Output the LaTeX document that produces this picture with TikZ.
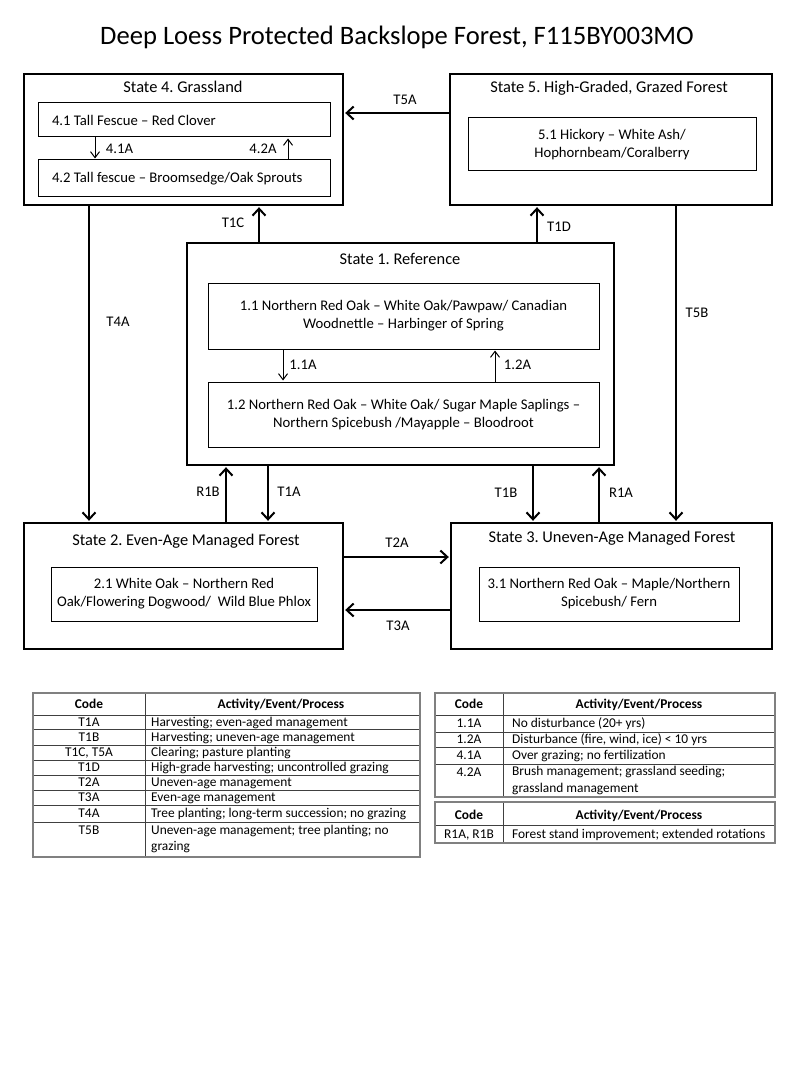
\documentclass[tikz,border=0pt]{standalone}
\usepackage{fontspec}
\setmainfont{Carlito}
\usepackage{tikz}
\usetikzlibrary{arrows.meta, positioning}
\frenchspacing
\newcommand{\statefont}{\fontsize{16.4}{19.7}\selectfont}
\newcommand{\phasefont}{\fontsize{14.7}{18}\selectfont}
\newcommand{\tabfont}{\fontsize{13.4}{16.5}\selectfont}
\tikzset{%
	statebox/.style={
		draw,
		rectangle,
		line width=2.4pt,
		inner sep=0pt
	},
	phasebox/.style={
		draw,
		rectangle,
		line width=1pt,
		align=center,
		font=\phasefont,
		inner sep=4pt
	},
}
\begin{document}
\begin{tikzpicture}[x=1pt,y=-1pt,shorten >=1pt,>={Straight Barb[length=7pt,width=13pt]}]
			\tikzstyle{statetitle}=[font=\statefont,inner sep=0pt,text height=12pt,text depth=2pt]
			\tikzstyle{translabel}=[font=\phasefont,inner sep=0pt,text height=11pt,text depth=1.6pt]
			\tikzstyle{trans}=[->,line width=2pt]
			\tikzstyle{phasetrans}=[-{Straight Barb[length=6pt,width=9pt]},line width=1pt]
			\tikzstyle{tabframe}=[draw=black!50,line width=1.6pt]
			\tikzstyle{tabline}=[draw=black!75,line width=0.9pt]
			\tikzstyle{tabhead}=[font=\tabfont\bfseries,inner sep=0pt,text height=10pt,text depth=1.4pt]
			\tikzstyle{tabcell}=[font=\tabfont,inner sep=0pt,text height=10pt,text depth=1.4pt]
			\tikzstyle{tabtext}=[tabcell,anchor=west]
			\tikzstyle{tabtwo}=[font=\tabfont,inner sep=0pt,anchor=west,align=left]
			
			\useasboundingbox (0,0) rectangle (800,1067);
			
			\node (title) at (397,37) {\fontsize{26.6}{30}\selectfont Deep Loess Protected Backslope Forest, F115BY003MO};
			
			% states
			\node[statebox,minimum width=319pt,minimum height=131pt] (s4) at (183.5,139.5) {};
			\node[statetitle] (s4t) at (183,88) {State 4. Grassland};
			\node[phasebox,minimum width=292pt,minimum height=34pt,text width=264pt,inner xsep=14pt,align=flush left] (p41) at (184,120) {4.1 Tall Fescue -- Red Clover};
			\node[phasebox,minimum width=292pt,minimum height=37pt,text width=264pt,inner xsep=14pt,align=flush left] (p42) at (184,178.5) {4.2 Tall fescue -- Broomsedge/Oak Sprouts};
			
			\node[statebox,minimum width=322pt,minimum height=131pt] (s5) at (611,139.5) {};
			\node[statetitle] (s5t) at (609,88) {State 5. High-Graded, Grazed Forest};
			\node[phasebox,minimum width=288pt,minimum height=53pt] (p51) at (612,144.5) {5.1 Hickory -- White Ash/\\Hophornbeam/Coralberry};
			
			\node[statebox,minimum width=427pt,minimum height=222pt] (s1) at (400.5,354) {};
			\node[statetitle] (s1t) at (400,259) {State 1. Reference};
			\node[phasebox,minimum width=391pt,minimum height=66pt] (p11) at (403.5,316) {1.1 Northern Red Oak -- White Oak/Pawpaw/ Canadian\\Woodnettle -- Harbinger of Spring};
			\node[phasebox,minimum width=391pt,minimum height=65pt] (p12) at (403.5,414.5) {1.2 Northern Red Oak -- White Oak/ Sugar Maple Saplings --\\Northern Spicebush /Mayapple -- Bloodroot};
			
			\node[statebox,minimum width=319pt,minimum height=126pt] (s2) at (183.5,586) {};
			\node[statetitle] (s2t) at (186,540) {State 2. Even-Age Managed Forest};
			\node[phasebox,minimum width=266pt,minimum height=54pt] (p21) at (184,594) {2.1 White Oak -- Northern Red\\Oak/Flowering Dogwood/ \ Wild Blue Phlox};
			
			\node[statebox,minimum width=321pt,minimum height=126pt] (s3) at (611.5,586) {};
			\node[statetitle] (s3t) at (612,537) {State 3. Uneven-Age Managed Forest};
			\node[phasebox,minimum width=260pt,minimum height=54pt] (p31) at (609,594) {3.1 Northern Red Oak -- Maple/Northern\\Spicebush/ Fern};
			
			% where the vertical connectors run
			\coordinate (xT4A) at (89,0);
			\coordinate (xR1B) at (226,0);
			\coordinate (xT1C) at (259,0);
			\coordinate (xT1A) at (268,0);
			\coordinate (xT1B) at (533,0);
			\coordinate (xT1D) at (537,0);
			\coordinate (xR1A) at (599,0);
			\coordinate (xT5B) at (676,0);
			\coordinate (yT5A) at (0,113);
			\coordinate (yT2A) at (0,557);
			\coordinate (yT3A) at (0,610);
			\coordinate (x41A) at (95,0);
			\coordinate (x42A) at (288,0);
			\coordinate (x11A) at (283,0);
			\coordinate (x12A) at (495,0);
			
			\draw[trans] (s5.west |- yT5A) -- (s4.east |- yT5A);
			\node[translabel] (lT5A) at (405,100) {T5A};
			
			\draw[trans] (s1.north -| xT1C) -- (s4.south -| xT1C);
			\node[translabel] (lT1C) at (233,223) {T1C};
			
			\draw[trans] (s1.north -| xT1D) -- (s5.south -| xT1D);
			\node[translabel] (lT1D) at (559,227) {T1D};
			
			\draw[trans] (s4.south -| xT4A) -- (s2.north -| xT4A);
			\node[translabel] (lT4A) at (118,322) {T4A};
			
			\draw[trans] (s5.south -| xT5B) -- (s3.north -| xT5B);
			\node[translabel] (lT5B) at (697,313) {T5B};
			
			\draw[trans] (s2.north -| xR1B) -- (s1.south -| xR1B);
			\node[translabel] (lR1B) at (208,492) {R1B};
			
			\draw[trans] (s1.south -| xT1A) -- (s2.north -| xT1A);
			\node[translabel] (lT1A) at (289,492) {T1A};
			
			\draw[trans] (s1.south -| xT1B) -- (s3.north -| xT1B);
			\node[translabel] (lT1B) at (506,493) {T1B};
			
			\draw[trans] (s3.north -| xR1A) -- (s1.south -| xR1A);
			\node[translabel] (lR1A) at (621,493) {R1A};
			
			\draw[trans] (s2.east |- yT2A) -- (s3.west |- yT2A);
			\node[translabel] (lT2A) at (397,543) {T2A};
			
			\draw[trans] (s3.west |- yT3A) -- (s2.east |- yT3A);
			\node[translabel] (lT3A) at (398,626) {T3A};
			
			% within states
			\draw[phasetrans] (p41.south -| x41A) -- (p42.north -| x41A);
			\node[translabel] (l41A) at (119.5,149) {4.1A};
			\draw[phasetrans] (p42.north -| x42A) -- (p41.south -| x42A);
			\node[translabel] (l42A) at (263,149) {4.2A};
			
			\draw[phasetrans] (p11.south -| x11A) -- (p12.north -| x11A);
			\node[translabel] (l11A) at (303,365) {1.1A};
			\draw[phasetrans] (p12.north -| x12A) -- (p11.south -| x12A);
			\node[translabel] (l12A) at (517.5,365) {1.2A};
			
			% legend tables
			\draw[tabline] (33,715) -- (420,715);
			\draw[tabline] (33,729) -- (420,729);
			\draw[tabline] (33,745) -- (420,745);
			\draw[tabline] (33,760) -- (420,760);
			\draw[tabline] (33,775) -- (420,775);
			\draw[tabline] (33,790) -- (420,790);
			\draw[tabline] (33,805) -- (420,805);
			\draw[tabline] (33,822) -- (420,822);
			\draw[tabline] (145,693) -- (145,857);
			\draw[tabframe] (33,693) rectangle (420,857);
			
			\node[tabhead] (hc1) at (89,704) {Code};
			\node[tabhead] (ha1) at (281,704) {Activity/Event/Process};
			\node[tabcell] (cT1A) at (89,722) {T1A};
			\node[tabtext] (aT1A) at (151,722) {Harvesting; even-aged management};
			\node[tabcell] (cT1B) at (89,737) {T1B};
			\node[tabtext] (aT1B) at (151,737) {Harvesting; uneven-age management};
			\node[tabcell] (cT1C) at (89,752.5) {T1C, T5A};
			\node[tabtext] (aT1C) at (151,752.5) {Clearing; pasture planting};
			\node[tabcell] (cT1D) at (89,767.5) {T1D};
			\node[tabtext] (aT1D) at (151,767.5) {High-grade harvesting; uncontrolled grazing};
			\node[tabcell] (cT2A) at (89,782.5) {T2A};
			\node[tabtext] (aT2A) at (151,782.5) {Uneven-age management};
			\node[tabcell] (cT3A) at (89,797.5) {T3A};
			\node[tabtext] (aT3A) at (151,797.5) {Even-age management};
			\node[tabcell] (cT4A) at (89,813.5) {T4A};
			\node[tabtext] (aT4A) at (151,813.5) {Tree planting; long-term succession; no grazing};
			\node[tabcell] (cT5B) at (89,830) {T5B};
			\node[tabtwo] (aT5B) at (151,839) {Uneven-age management; tree planting; no\\grazing};
			
			\draw[tabline] (435,715) -- (775,715);
			\draw[tabline] (435,732) -- (775,732);
			\draw[tabline] (435,747) -- (775,747);
			\draw[tabline] (435,764) -- (775,764);
			\draw[tabline] (503,693) -- (503,797);
			\draw[tabframe] (435,693) rectangle (775,797);
			
			\node[tabhead] (hc2) at (469,704) {Code};
			\node[tabhead] (ha2) at (639,704) {Activity/Event/Process};
			\node[tabcell] (c11A) at (469,723.5) {1.1A};
			\node[tabtext] (a11A) at (512,723.5) {No disturbance (20+ yrs)};
			\node[tabcell] (c12A) at (469,739.5) {1.2A};
			\node[tabtext] (a12A) at (512,739.5) {Disturbance (fire, wind, ice) < 10 yrs};
			\node[tabcell] (c41A) at (469,755.5) {4.1A};
			\node[tabtext] (a41A) at (512,755.5) {Over grazing; no fertilization};
			\node[tabcell] (c42A) at (469,772) {4.2A};
			\node[tabtwo] (a42A) at (512,780.5) {Brush management; grassland seeding;\\grassland management};
			
			\draw[tabline] (435,825) -- (775,825);
			\draw[tabline] (503,802) -- (503,843);
			\draw[tabframe] (435,802) rectangle (775,843);
			
			\node[tabhead] (hc3) at (469,815) {Code};
			\node[tabhead] (ha3) at (639,815) {Activity/Event/Process};
			\node[tabcell] (cR1A) at (469,834) {R1A, R1B};
			\node[tabtext] (aR1A) at (512,834) {Forest stand improvement; extended rotations};
		\end{tikzpicture}
\end{document}
